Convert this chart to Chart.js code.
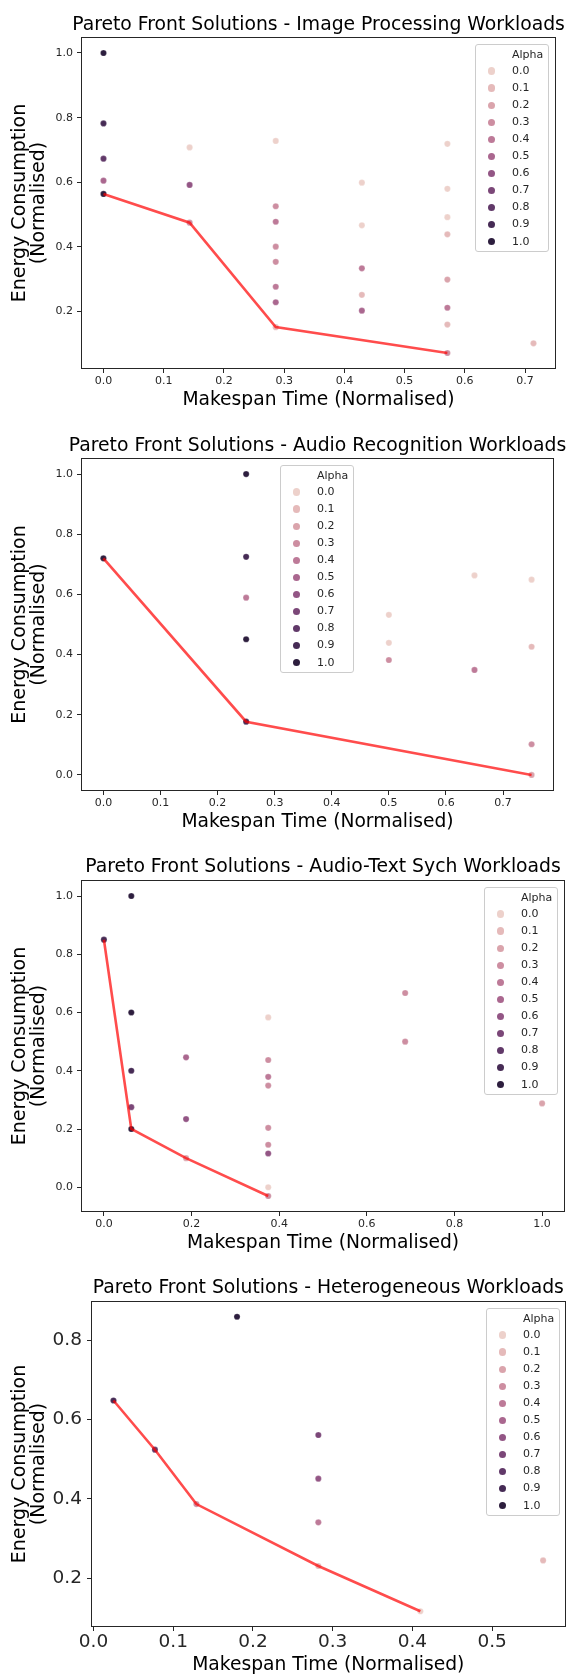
<!DOCTYPE html>
<html>
<head>
<meta charset="utf-8">
<script src="https://cdn.jsdelivr.net/npm/chart.js@4.4.0/dist/chart.umd.min.js"></script>
<style>
  html, body { margin: 0; padding: 0; background: #ffffff; }
  body { width: 569px; height: 1675px; position: relative; overflow: hidden; font-family: "DejaVu Sans", sans-serif; }
  .panel { position: absolute; left: 0; width: 569px; }
  .panel canvas { display: block; }
  .legend { position: absolute; width: 74px; height: 208px; box-sizing: border-box;
            border: 1px solid #cccccc; border-radius: 3px; background: rgba(255,255,255,0.8); color: #262626; }
  .legend .lt { position: absolute; left: 36px; top: 3px; height: 14px; line-height: 14px; font-size: 11px; white-space: nowrap; }
  .legend .lm { position: absolute; width: 7.2px; height: 7.2px; border-radius: 50%; }
  .legend .ll { position: absolute; left: 36px; height: 14px; line-height: 14px; font-size: 11px; white-space: nowrap; }
</style>
</head>
<body>
<script>
// ---------------- DATA ----------------
const alphaLevels = [0.0, 0.1, 0.2, 0.3, 0.4, 0.5, 0.6, 0.7, 0.8, 0.9, 1.0];

// Image Processing Workloads
const imgX     = [0, 0, 0, 0, 0, 0.143, 0.143, 0.143, 0.286, 0.286, 0.286, 0.286, 0.286, 0.286, 0.286, 0.286, 0.429, 0.429, 0.429, 0.429, 0.429, 0.571, 0.571, 0.571, 0.571, 0.571, 0.571, 0.571, 0.571, 0.714];
const imgY     = [1.000, 0.782, 0.673, 0.605, 0.564, 0.708, 0.592, 0.475, 0.728, 0.526, 0.478, 0.401, 0.354, 0.277, 0.229, 0.152, 0.599, 0.467, 0.334, 0.252, 0.203, 0.719, 0.580, 0.492, 0.439, 0.299, 0.212, 0.160, 0.072, 0.102];
const imgAlpha = [1.0, 0.9, 0.8, 0.5, 1.0, 0.0, 0.6, 0.3, 0.0, 0.3, 0.4, 0.3, 0.3, 0.4, 0.5, 0.1, 0.0, 0.0, 0.4, 0.1, 0.5, 0.0, 0.0, 0.0, 0.1, 0.2, 0.4, 0.1, 0.3, 0.1];
const imgFrontX = [0, 0.143, 0.286, 0.571];
const imgFrontY = [0.564, 0.475, 0.152, 0.072];
const imgXTicks = [0.0, 0.1, 0.2, 0.3, 0.4, 0.5, 0.6, 0.7];
const imgYTicks = [0.2, 0.4, 0.6, 0.8, 1.0];

// Audio Recognition Workloads
const audX     = [0, 0.25, 0.25, 0.25, 0.25, 0.25, 0.5, 0.5, 0.5, 0.65, 0.65, 0.75, 0.75, 0.75, 0.75];
const audY     = [0.720, 1.000, 0.725, 0.589, 0.451, 0.177, 0.532, 0.439, 0.382, 0.663, 0.349, 0.649, 0.426, 0.102, 0.000];
const audAlpha = [1.0, 1.0, 0.9, 0.4, 1.0, 0.9, 0.0, 0.0, 0.3, 0.0, 0.4, 0.0, 0.1, 0.3, 0.2];
const audFrontX = [0, 0.25, 0.75];
const audFrontY = [0.720, 0.177, 0.000];
const audXTicks = [0.0, 0.1, 0.2, 0.3, 0.4, 0.5, 0.6, 0.7];
const audYTicks = [0.0, 0.2, 0.4, 0.6, 0.8, 1.0];

// Audio-Text Sych Workloads
const atsX     = [0, 0.0625, 0.0625, 0.0625, 0.0625, 0.0625, 0.1875, 0.1875, 0.1875, 0.375, 0.375, 0.375, 0.375, 0.375, 0.375, 0.375, 0.375, 0.375, 0.6875, 0.6875, 1.0];
const atsY     = [0.850, 1.000, 0.600, 0.400, 0.275, 0.200, 0.446, 0.234, 0.100, 0.583, 0.437, 0.379, 0.349, 0.204, 0.146, 0.116, 0.000, -0.030, 0.667, 0.500, 0.288];
const atsAlpha = [0.9, 1.0, 1.0, 0.9, 0.7, 1.0, 0.5, 0.6, 0.2, 0.0, 0.3, 0.4, 0.3, 0.3, 0.3, 0.6, 0.0, 0.3, 0.3, 0.3, 0.2];
const atsFrontX = [0, 0.0625, 0.1875, 0.375];
const atsFrontY = [0.850, 0.200, 0.100, -0.030];
const atsXTicks = [0.0, 0.2, 0.4, 0.6, 0.8, 1.0];
const atsYTicks = [0.0, 0.2, 0.4, 0.6, 0.8, 1.0];

// Heterogeneous Workloads
const hetX     = [0.025, 0.077, 0.129, 0.180, 0.282, 0.282, 0.282, 0.282, 0.410, 0.564];
const hetY     = [0.648, 0.524, 0.387, 0.859, 0.561, 0.451, 0.341, 0.231, 0.117, 0.245];
const hetAlpha = [0.9, 0.8, 0.3, 1.0, 0.7, 0.6, 0.4, 0.1, 0.0, 0.1];
const hetFrontX = [0.025, 0.077, 0.129, 0.282, 0.410];
const hetFrontY = [0.648, 0.524, 0.387, 0.231, 0.117];
const hetXTicks = [0.0, 0.1, 0.2, 0.3, 0.4, 0.5];
const hetYTicks = [0.2, 0.4, 0.6, 0.8];

const titles = [
  "Pareto Front Solutions - Image Processing Workloads",
  "Pareto Front Solutions - Audio Recognition Workloads",
  "Pareto Front Solutions - Audio-Text Sych Workloads",
  "Pareto Front Solutions - Heterogeneous Workloads"
];
const xAxisLabel = "Makespan Time (Normalised)";
const yAxisLabel = ["Energy Consumption", "(Normalised)"];
const legendTitle = "Alpha";

// ---------------- STYLE / LAYOUT ----------------
const FONT = '"DejaVu Sans", sans-serif';
const INK = '#262626';

// seaborn default cubehelix colormap (light=.85, dark=.15)
function cubehelix(v) {
  const x = 0.85 + (0.15 - 0.85) * v;
  const a = 0.8 * x * (1 - x) / 2;
  const phi = 2 * Math.PI * (0.4 * x);
  const c = Math.cos(phi), s = Math.sin(phi);
  const cl = t => Math.round(Math.max(0, Math.min(1, t)) * 255);
  const r = cl(x + a * (-0.14861 * c + 1.78277 * s));
  const g = cl(x + a * (-0.29227 * c - 0.90649 * s));
  const b = cl(x + a * (1.97294 * c));
  return `rgb(${r},${g},${b})`;
}

function padRange(arr) {
  const mn = Math.min(...arr), mx = Math.max(...arr);
  const m = (mx - mn) * 0.05;
  return [mn - m, mx + m];
}
const fmt = v => (Math.abs(v) < 1e-9 ? 0 : v).toFixed(1);

const framePlugin = {
  id: 'frameTitle',
  afterDraw(chart, args, opts) {
    const { ctx, chartArea } = chart;
    const { left, top, right, bottom } = chartArea;
    ctx.save();
    ctx.strokeStyle = INK;
    ctx.lineWidth = 1;
    ctx.strokeRect(Math.round(left) - 0.5, Math.round(top) - 0.5, Math.round(right - left) + 1, Math.round(bottom - top) + 1);
    ctx.fillStyle = '#000';
    ctx.font = `${opts.size}px ${FONT}`;
    ctx.textAlign = 'center';
    ctx.textBaseline = 'middle';
    ctx.fillText(opts.text, (left + right) / 2, opts.y);
    ctx.restore();
  }
};

const panels = [
  { top: 0,    height: 420, L: 82, R: 555, T: 38,   B: 368,  titleY: 25,   xlabY: 400,  tickSize: 11,   yPad: 4, xPad: 2,
    legend: [475, 44],   title: titles[0], xs: imgX, ys: imgY, al: imgAlpha, fx: imgFrontX, fy: imgFrontY, xt: imgXTicks, yt: imgYTicks },
  { top: 420,  height: 420, L: 82, R: 553, T: 459,  B: 790,  titleY: 446,  xlabY: 822,  tickSize: 11,   yPad: 4, xPad: 2,
    legend: [280, 465],  title: titles[1], xs: audX, ys: audY, al: audAlpha, fx: audFrontX, fy: audFrontY, xt: audXTicks, yt: audYTicks },
  { top: 840,  height: 415, L: 82, R: 564, T: 881,  B: 1211, titleY: 867,  xlabY: 1243, tickSize: 11,   yPad: 4, xPad: 2,
    legend: [484, 887],  title: titles[2], xs: atsX, ys: atsY, al: atsAlpha, fx: atsFrontX, fy: atsFrontY, xt: atsXTicks, yt: atsYTicks },
  { top: 1255, height: 420, L: 92, R: 566, T: 1302, B: 1626, titleY: 1288, xlabY: 1665, tickSize: 18.5, yPad: 5, xPad: 0,
    legend: [486, 1308], title: titles[3], xs: hetX, ys: hetY, al: hetAlpha, fx: hetFrontX, fy: hetFrontY, xt: hetXTicks, yt: hetYTicks }
];

function buildLegend(p) {
  const box = document.createElement('div');
  box.className = 'legend';
  box.style.left = p.legend[0] + 'px';
  box.style.top = p.legend[1] + 'px';
  const t = document.createElement('div');
  t.className = 'lt';
  t.textContent = legendTitle;
  box.appendChild(t);
  alphaLevels.forEach((a, k) => {
    const cy = 26 + 17.05 * k;
    const m = document.createElement('div');
    m.className = 'lm';
    m.style.left = (15.5 - 3.6) + 'px';
    m.style.top = (cy - 3.6) + 'px';
    m.style.background = cubehelix(a);
    box.appendChild(m);
    const l = document.createElement('div');
    l.className = 'll';
    l.style.top = (cy - 7) + 'px';
    l.textContent = a.toFixed(1);
    box.appendChild(l);
  });
  document.body.appendChild(box);
}

function buildChart(p) {
  const panel = document.createElement('div');
  panel.className = 'panel';
  panel.style.top = p.top + 'px';
  panel.style.height = p.height + 'px';
  const canvas = document.createElement('canvas');
  canvas.width = 569; canvas.height = p.height;
  canvas.style.width = '569px'; canvas.style.height = p.height + 'px';
  panel.appendChild(canvas);
  document.body.appendChild(panel);

  const datasets = [{
    label: 'front',
    data: p.fx.map((x, i) => ({ x: x, y: p.fy[i] })),
    showLine: true, borderColor: 'rgba(255,0,0,0.7)', backgroundColor: 'rgba(255,0,0,0.7)',
    borderWidth: 2.6, pointRadius: 0, tension: 0, fill: false, order: 0
  }];
  alphaLevels.forEach(a => {
    const pts = [];
    p.xs.forEach((x, i) => { if (Math.abs(p.al[i] - a) < 1e-6) pts.push({ x: x, y: p.ys[i] }); });
    datasets.push({
      label: a.toFixed(1), data: pts, showLine: false,
      backgroundColor: cubehelix(a), borderColor: 'rgba(255,255,255,0.6)', borderWidth: 0.4,
      pointRadius: 3.1, order: 1
    });
  });

  const xr = padRange(p.xs.concat(p.fx));
  const yr = padRange(p.ys.concat(p.fy));
  const tickFont = { family: FONT, size: p.tickSize, lineHeight: 1.2 };
  const xTitleLH = 18.7 * 1.2;

  new Chart(canvas, {
    type: 'scatter',
    data: { datasets },
    plugins: [framePlugin],
    options: {
      responsive: false, animation: false, devicePixelRatio: 1,
      layout: { padding: { left: 0, right: 569 - p.R, top: p.T - p.top, bottom: 0 } },
      plugins: {
        legend: { display: false }, tooltip: { enabled: false },
        frameTitle: { text: p.title, y: p.titleY - p.top, size: 18.8 }
      },
      scales: {
        x: {
          type: 'linear', min: xr[0], max: xr[1],
          afterBuildTicks: s => { s.ticks = p.xt.map(v => ({ value: v })); },
          afterFit: s => { s.height = p.top + p.height - p.B; },
          ticks: { callback: v => fmt(v), font: tickFont, color: INK, padding: p.xPad, maxRotation: 0, autoSkip: false },
          grid: { display: true, drawOnChartArea: false, drawTicks: true, tickLength: 5, color: INK, lineWidth: 1 },
          border: { display: false },
          title: { display: true, text: xAxisLabel, color: '#000',
                   font: { family: FONT, size: 18.7, lineHeight: 1.2 },
                   padding: { top: 0, bottom: (p.top + p.height) - p.xlabY - xTitleLH / 2 } }
        },
        y: {
          type: 'linear', min: yr[0], max: yr[1],
          afterBuildTicks: s => { s.ticks = p.yt.map(v => ({ value: v })); },
          afterFit: s => { s.width = p.L; },
          ticks: { callback: v => fmt(v), font: tickFont, color: INK, padding: p.yPad, autoSkip: false },
          grid: { display: true, drawOnChartArea: false, drawTicks: true, tickLength: 5, color: INK, lineWidth: 1 },
          border: { display: false },
          title: { display: true, text: yAxisLabel, color: '#000',
                   font: { family: FONT, size: 19, lineHeight: 1.0 },
                   padding: { top: 10.5, bottom: 0 } }
        }
      }
    }
  });
  buildLegend(p);
}

panels.forEach(buildChart);
</script>
</body>
</html>
